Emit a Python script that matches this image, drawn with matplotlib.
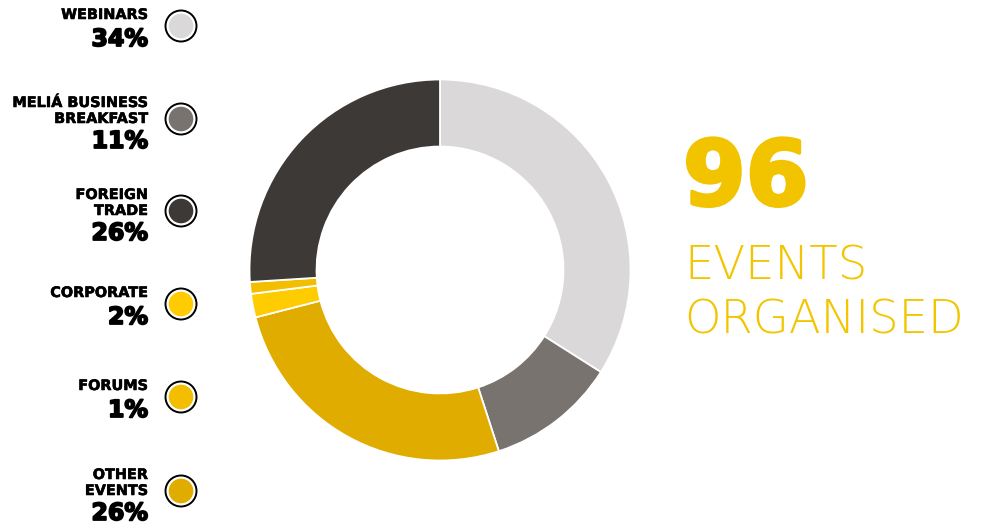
import matplotlib.pyplot as plt
import matplotlib.patheffects as pe
from matplotlib.patches import Circle

# data
categories = ["WEBINARS", "MELIÁ BUSINESS\nBREAKFAST", "FOREIGN\nTRADE",
              "CORPORATE", "FORUMS", "OTHER\nEVENTS"]
shares = [34, 11, 26, 2, 1, 26]
colors = ["#DAD8D9", "#78736F", "#3D3936", "#FECC00", "#F3BD00", "#E0AC00"]
total_events = 96

# order of slices clockwise from the top
ring_order = [0, 1, 5, 3, 4, 2]

W, H = 982, 527
fig = plt.figure(figsize=(W / 100, H / 100), dpi=100)

# donut
cx, cy, r = 440, 270, 190.5
ax = fig.add_axes([(cx - r) / W, (H - cy - r) / H, 2 * r / W, 2 * r / H])
ax.pie([shares[i] for i in ring_order],
       colors=[colors[i] for i in ring_order],
       startangle=90, counterclock=False, radius=1,
       wedgeprops=dict(width=0.352, edgecolor="white", linewidth=1.3))
ax.set_xlim(-1, 1)
ax.set_ylim(-1, 1)
ax.axis("off")

# overlay in pixel coordinates for legend and labels
ov = fig.add_axes([0, 0, 1, 1])
ov.set_xlim(0, W)
ov.set_ylim(H, 0)
ov.axis("off")

thick = [pe.withStroke(linewidth=1.3, foreground="black")]
marker_y = [26, 119, 211, 304, 397, 491]
for name, pct, col, y in zip(categories, shares, colors, marker_y):
    ov.add_patch(Circle((181, y), 15.5, facecolor="white", edgecolor="black", linewidth=1.4))
    ov.add_patch(Circle((181, y), 12.3, facecolor=col, edgecolor="none"))
    lines = name.split("\n")
    if len(lines) == 1:
        base = [y - 7]
        pct_y = y + 20
    else:
        base = [y - 12, y + 4]
        pct_y = y + 29
    for ln, b in zip(lines, base):
        ov.text(148, b, ln, ha="right", va="baseline", fontsize=10.4,
                fontweight="bold", family="DejaVu Sans", color="black",
                path_effects=[pe.withStroke(linewidth=0.4, foreground="black")])
    ov.text(148, pct_y, f"{pct}%", ha="right", va="baseline", fontsize=17,
            fontweight="heavy", family="DejaVu Sans", color="black",
            path_effects=thick)

ov.text(683, 205, str(total_events), ha="left", va="baseline", fontsize=65,
        fontweight="heavy", family="DejaVu Sans", color="#F2C400",
        path_effects=[pe.withStroke(linewidth=2.5, foreground="#F2C400")])
ov.text(684, 280, "EVENTS", ha="left", va="baseline", fontsize=33.5,
        fontweight=200, family="DejaVu Sans", color="#F2C500")
ov.text(684, 333, "ORGANISED", ha="left", va="baseline", fontsize=33.5,
        fontweight=200, family="DejaVu Sans", color="#F2C500")

fig.savefig("out.png", dpi=100)
